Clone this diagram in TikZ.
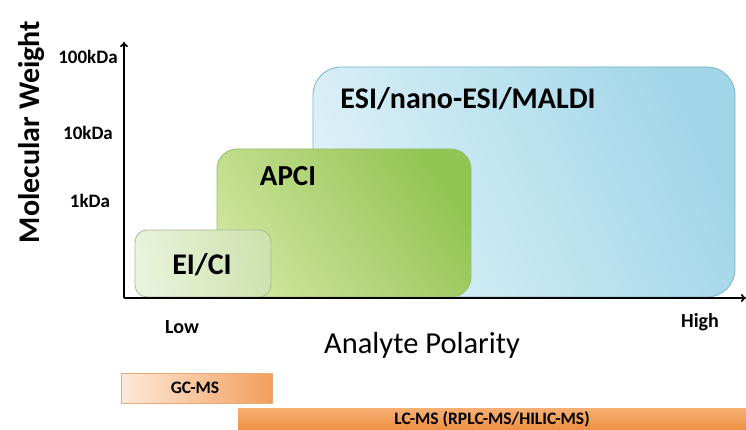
\documentclass[tikz,border=0pt]{standalone}
\usepackage{fontspec}
\setmainfont{Carlito}
\usetikzlibrary{arrows.meta}
\definecolor{esiL}{RGB}{222,241,248}
\definecolor{esiR}{RGB}{160,214,232}
\definecolor{esiB}{RGB}{120,180,196}
\definecolor{apciL}{RGB}{206,228,156}
\definecolor{apciR}{RGB}{146,196,82}
\definecolor{apciB}{RGB}{150,190,110}
\definecolor{eiL}{RGB}{234,243,220}
\definecolor{eiR}{RGB}{206,226,174}
\definecolor{eiB}{RGB}{170,185,150}
\definecolor{gcL}{RGB}{253,234,218}
\definecolor{gcR}{RGB}{242,158,92}
\definecolor{gcB}{RGB}{232,170,125}
\definecolor{lcL}{RGB}{246,176,116}
\definecolor{lcR}{RGB}{238,140,62}
\tikzset{
  region/.style={draw=#1, line width=0.8pt},
  axis/.style={line width=1.8pt, -{To[length=5pt,width=8pt]}},
  tick/.style={font=\fontsize{19}{19}\selectfont\bfseries},
  big/.style={font=\fontsize{30}{30}\selectfont\bfseries},
  small/.style={font=\fontsize{17.5}{17.5}\selectfont\bfseries},
}
\begin{document}
\begin{tikzpicture}[x=1pt,y=-1pt]
\useasboundingbox (0,0) rectangle (746,430);
% regions
\path[region=esiB, rounded corners=28pt, left color=esiL, right color=esiR, shading angle=115]
  (313,67) rectangle (735,297);
\path[region=apciB, rounded corners=20pt, left color=apciL, right color=apciR, shading angle=125]
  (217,149) rectangle (471,297);
\path[region=eiB, rounded corners=12pt, left color=eiL, right color=eiR, shading angle=100]
  (135,230) rectangle (271,297);
% technique bars
\path[region=gcB, left color=gcL, right color=gcR] (121,373) rectangle (272,403);
\path[top color=lcL, bottom color=lcR] (238,408) rectangle (746,432);
% axes
\coordinate (O) at (124,298);
\coordinate (ytip) at (124,42);
\coordinate (xtip) at (746,298);
\draw[axis] (O) -- (ytip);
\draw[axis] (O) -- (xtip);
% labels
\node[rotate=90, font=\fontsize{30}{30}\selectfont\bfseries] (mw) at (32,132) {Molecular Weight};
\node[tick] (t100) at (88,57) {100kDa};
\node[tick] (t10) at (88,133) {10kDa};
\node[tick] (t1) at (90,201) {1kDa};
\node[big] (ei) at (202,265) {EI/CI};
\node[font=\fontsize{29}{29}\selectfont\bfseries] (apci) at (288,176) {APCI};
\node[font=\fontsize{30}{30}\selectfont\bfseries] (esi) at (468,99) {ESI/nano-ESI/MALDI};
\node[font=\fontsize{20}{20}\selectfont\bfseries] (low) at (182,327) {Low};
\node[font=\fontsize{20}{20}\selectfont\bfseries] (high) at (700,322) {High};
\node[font=\fontsize{30.5}{30.5}\selectfont] (ap) at (422,345) {Analyte Polarity};
\node[small] (gc) at (195,388) {GC-MS};
\node[small] (lc) at (492,419.5) {LC-MS (RPLC-MS/HILIC-MS)};
\end{tikzpicture}
\end{document}
